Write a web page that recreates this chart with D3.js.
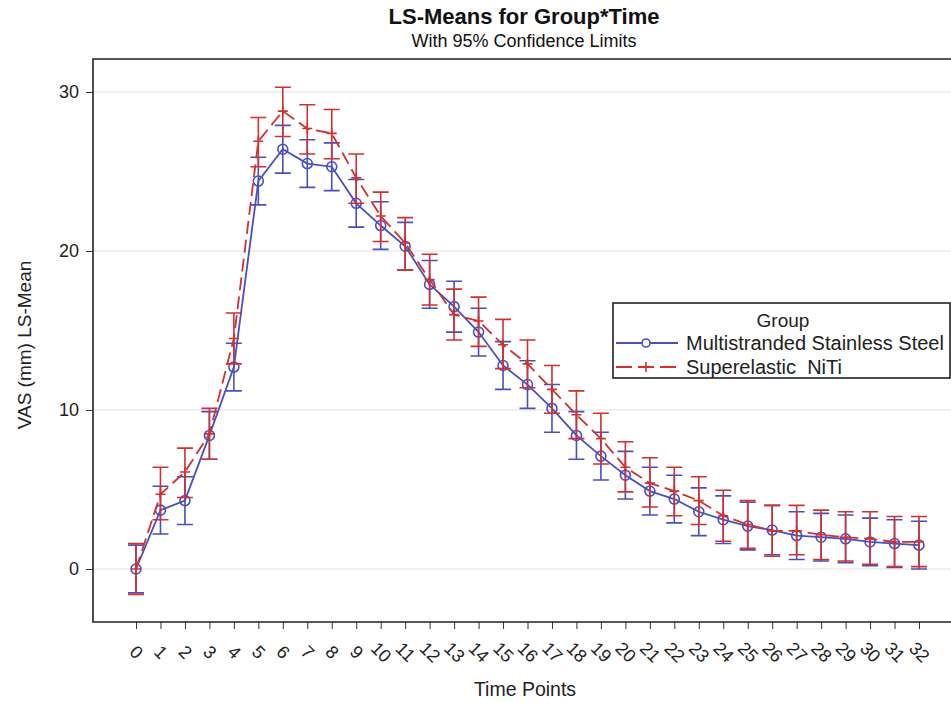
<!DOCTYPE html>
<html>
<head>
<meta charset="utf-8">
<script src="https://cdn.jsdelivr.net/npm/d3@7"></script>
<style>
  body { margin: 0; background: #fff; }
  svg { display: block; font-family: "Liberation Sans", Arial, sans-serif; }
</style>
</head>
<body>
<svg id="chart" width="951" height="702"></svg>
<script>
// values
const timePoints = d3.range(0, 33);
const yTicks = [0, 10, 20, 30];
const groups = ['Multistranded Stainless Steel', 'Superelastic  NiTi'];

const steelMean = [0, 3.7, 4.3, 8.4, 12.7, 24.4, 26.4, 25.5, 25.3, 23.0, 21.6, 20.3, 17.9, 16.5, 14.9, 12.8, 11.6, 10.1, 8.4, 7.1, 5.9, 4.9, 4.4, 3.6, 3.1, 2.7, 2.45, 2.1, 2.0, 1.9, 1.7, 1.6, 1.5];
const steelUpper = [1.5, 5.2, 5.8, 9.9, 14.2, 25.9, 27.9, 27.0, 26.8, 24.5, 23.1, 21.8, 19.4, 18.1, 16.4, 14.3, 13.1, 11.6, 9.9, 8.6, 7.4, 6.4, 5.9, 5.1, 4.6, 4.2, 4.0, 3.6, 3.5, 3.4, 3.2, 3.1, 3.0];
const steelLower = [-1.5, 2.2, 2.8, 6.9, 11.2, 22.9, 24.9, 24.0, 23.8, 21.5, 20.1, 18.8, 16.4, 14.9, 13.4, 11.3, 10.1, 8.6, 6.9, 5.6, 4.4, 3.4, 2.9, 2.1, 1.6, 1.2, 0.9, 0.6, 0.5, 0.4, 0.2, 0.1, 0.0];

const nitiMean = [0, 4.7, 6.1, 8.5, 14.5, 26.9, 28.8, 27.7, 27.4, 24.6, 22.2, 20.5, 18.2, 16.0, 15.6, 14.1, 12.9, 11.3, 9.7, 8.2, 6.4, 5.4, 4.9, 4.3, 3.35, 2.8, 2.4, 2.4, 2.15, 2.0, 1.9, 1.7, 1.7];
const nitiUpper = [1.6, 6.4, 7.6, 10.1, 16.1, 28.4, 30.3, 29.2, 28.9, 26.1, 23.7, 22.1, 19.8, 17.6, 17.1, 15.7, 14.4, 12.8, 11.2, 9.8, 8.0, 7.0, 6.4, 5.8, 4.95, 4.3, 4.0, 4.0, 3.7, 3.6, 3.6, 3.3, 3.3];
const nitiLower = [-1.6, 3.1, 4.5, 6.9, 12.9, 25.3, 27.2, 26.1, 25.8, 23.0, 20.6, 18.8, 16.6, 14.4, 14.0, 12.6, 11.4, 9.8, 8.2, 6.6, 4.85, 3.9, 3.35, 2.8, 1.75, 1.3, 0.8, 0.9, 0.6, 0.5, 0.3, 0.15, 0.15];

const BLUE = '#4a4fc0';
const RED = '#d1312f';
const FONT = '"Liberation Sans", Arial, sans-serif';

const svg = d3.select('#chart');
const frame = { left: 93, top: 59, right: 953, bottom: 622 };

const x = d3.scaleLinear().domain([0, 32]).range([136, 919]);
const y = d3.scaleLinear().domain([0, 30]).range([569, 92]);

// titles
svg.append('text')
  .attr('x', 524).attr('y', 24)
  .attr('text-anchor', 'middle')
  .attr('font-size', 22).attr('font-weight', 'bold').attr('fill', '#111')
  .text('LS-Means for Group*Time');
svg.append('text')
  .attr('x', 524).attr('y', 47)
  .attr('text-anchor', 'middle')
  .attr('font-size', 18).attr('fill', '#111')
  .text('With 95% Confidence Limits');

// grid
svg.append('g')
  .selectAll('line')
  .data(yTicks)
  .join('line')
  .attr('x1', frame.left).attr('x2', frame.right)
  .attr('y1', d => y(d)).attr('y2', d => y(d))
  .attr('stroke', '#e2e2e2').attr('stroke-width', 1.2);

// axes
const yAxis = svg.append('g')
  .attr('transform', `translate(${frame.left},0)`)
  .call(d3.axisLeft(y).tickValues(yTicks).tickSize(7).tickPadding(7));
yAxis.select('.domain').remove();
yAxis.selectAll('line').attr('stroke', '#333');
yAxis.selectAll('text').attr('font-size', 18).attr('fill', '#222').attr('font-family', FONT);

const xAxis = svg.append('g')
  .attr('transform', `translate(0,${frame.bottom})`)
  .call(d3.axisBottom(x).tickValues(timePoints).tickSize(7).tickFormat(d3.format('d')));
xAxis.select('.domain').remove();
xAxis.selectAll('line').attr('stroke', '#333');
xAxis.selectAll('text')
  .attr('font-size', 18).attr('fill', '#222')
  .attr('font-family', FONT)
  .attr('text-anchor', 'middle')
  .attr('y', 0)
  .attr('dy', '0.35em')
  .attr('transform', 'translate(0,30) rotate(45)');

// frame
svg.append('path')
  .attr('d', `M${frame.right},${frame.top}H${frame.left}V${frame.bottom}H${frame.right}`)
  .attr('fill', 'none').attr('stroke', '#222').attr('stroke-width', 1.6);

// axis labels
svg.append('text')
  .attr('transform', 'translate(31,345) rotate(-90)')
  .attr('text-anchor', 'middle')
  .attr('font-size', 19).attr('fill', '#222')
  .text('VAS (mm) LS-Mean');
svg.append('text')
  .attr('x', 525).attr('y', 696)
  .attr('text-anchor', 'middle')
  .attr('font-size', 19.5).attr('fill', '#222')
  .text('Time Points');

function series(mean, lower, upper, color, dash, marker) {
  const rows = timePoints.map((t, i) => ({ t, m: mean[i], lo: lower[i], hi: upper[i] }));
  const g = svg.append('g');
  const cap = 8;

  const bars = g.append('g').attr('stroke', color).attr('stroke-width', 1.6).attr('fill', 'none');
  bars.selectAll('path')
    .data(rows)
    .join('path')
    .attr('d', d => `M${x(d.t)},${y(d.lo)}V${y(d.hi)}` +
      `M${x(d.t) - cap},${y(d.lo)}H${x(d.t) + cap}` +
      `M${x(d.t) - cap},${y(d.hi)}H${x(d.t) + cap}`);

  g.append('path')
    .datum(rows)
    .attr('fill', 'none')
    .attr('stroke', color)
    .attr('stroke-width', 1.8)
    .attr('stroke-dasharray', dash)
    .attr('d', d3.line().x(d => x(d.t)).y(d => y(d.m)));

  if (marker === 'circle') {
    g.append('g').selectAll('circle')
      .data(rows)
      .join('circle')
      .attr('cx', d => x(d.t)).attr('cy', d => y(d.m)).attr('r', 5)
      .attr('fill', 'none').attr('stroke', color).attr('stroke-width', 1.6);
  } else {
    g.append('g').selectAll('path')
      .data(rows)
      .join('path')
      .attr('d', d => `M${x(d.t) - 5},${y(d.m)}H${x(d.t) + 5}M${x(d.t)},${y(d.m) - 5}V${y(d.m) + 5}`)
      .attr('stroke', color).attr('stroke-width', 1.6);
  }
}

series(steelMean, steelLower, steelUpper, BLUE, null, 'circle');
series(nitiMean, nitiLower, nitiUpper, RED, '13,6', 'plus');

// legend
const lg = svg.append('g').attr('transform', 'translate(613,303)');
lg.append('rect')
  .attr('width', 337).attr('height', 75)
  .attr('fill', '#fff').attr('stroke', '#222').attr('stroke-width', 1.6);
lg.append('text')
  .attr('x', 170).attr('y', 24)
  .attr('text-anchor', 'middle')
  .attr('font-size', 19).attr('fill', '#222')
  .text('Group');
const items = [
  { name: groups[0], color: BLUE, dash: null, marker: 'circle' },
  { name: groups[1], color: RED, dash: '13,6', marker: 'plus' },
];
items.forEach((it, i) => {
  const cy = 40 + i * 24;
  lg.append('line')
    .attr('x1', 3).attr('x2', 65).attr('y1', cy).attr('y2', cy)
    .attr('stroke', it.color).attr('stroke-width', 1.8)
    .attr('stroke-dasharray', it.dash ? '16,6' : null);
  if (it.marker === 'circle') {
    lg.append('circle').attr('cx', 33).attr('cy', cy).attr('r', 4)
      .attr('fill', '#fff').attr('stroke', it.color).attr('stroke-width', 1.6);
  } else {
    lg.append('path').attr('d', `M28,${cy}H38M33,${cy - 5}V${cy + 5}`)
      .attr('stroke', it.color).attr('stroke-width', 1.6);
  }
  lg.append('text')
    .attr('x', 73).attr('y', cy + 7)
    .attr('font-size', 20).attr('fill', '#222')
    .style('white-space', 'pre')
    .text(it.name);
});
</script>
</body>
</html>
